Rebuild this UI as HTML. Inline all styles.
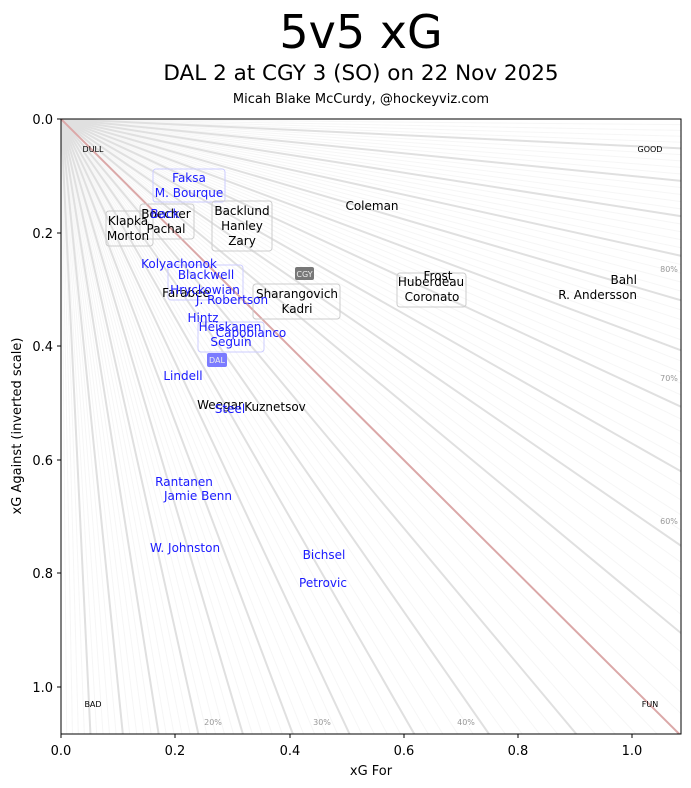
<!DOCTYPE html>
<html><head><meta charset="utf-8"><style>
html,body{margin:0;padding:0;background:#fff;overflow:hidden;width:691px;height:788px;}
svg{display:block;font-family:"DejaVu Sans","Liberation Sans",sans-serif;}
</style></head><body>
<svg id="s" width="691" height="788" viewBox="0 0 691 788" xmlns="http://www.w3.org/2000/svg">
<defs><clipPath id="c"><rect x="61" y="119" width="620" height="615"/></clipPath></defs>
<rect width="691" height="788" fill="#fff"/>
<text x="361" y="48" font-size="46" text-anchor="middle">5v5 xG</text>
<text x="361" y="80" font-size="21.5" text-anchor="middle">DAL 2 at CGY 3 (SO) on 22 Nov 2025</text>
<text x="361" y="103" font-size="13" text-anchor="middle">Micah Blake McCurdy, @hockeyviz.com</text>
<g id="faint" clip-path="url(#c)"></g>
<g clip-path="url(#c)" stroke="#e0e0e0" stroke-width="2" fill="none">
<line x1="61" y1="119" x2="1203" y2="23975"/>
<line x1="61" y1="119" x2="1203" y2="11479"/>
<line x1="61" y1="119" x2="1203" y2="7313"/>
<line x1="61" y1="119" x2="1203" y2="5231"/>
<line x1="61" y1="119" x2="1203" y2="3981"/>
<line x1="61" y1="119" x2="1203" y2="3148"/>
<line x1="61" y1="119" x2="1203" y2="2553"/>
<line x1="61" y1="119" x2="1203" y2="2107"/>
<line x1="61" y1="119" x2="1203" y2="1760"/>
<line x1="61" y1="119" x2="1203" y2="1482"/>
<line x1="61" y1="119" x2="1203" y2="1066"/>
<line x1="61" y1="119" x2="1203" y2="905"/>
<line x1="61" y1="119" x2="1203" y2="768"/>
<line x1="61" y1="119" x2="1203" y2="649"/>
<line x1="61" y1="119" x2="1203" y2="545"/>
<line x1="61" y1="119" x2="1203" y2="453"/>
<line x1="61" y1="119" x2="1203" y2="371"/>
<line x1="61" y1="119" x2="1203" y2="298"/>
<line x1="61" y1="119" x2="1203" y2="233"/>
<line x1="61" y1="119" x2="1203" y2="173"/>
<line x1="61" y1="119" x2="1203" y2="1255" stroke="#dba8a8"/>
</g>
<g font-size="8" fill="#999" text-anchor="middle">
<text x="213" y="725">20%</text><text x="322" y="725">30%</text><text x="466" y="725">40%</text>
<text x="669" y="524">60%</text><text x="669" y="381">70%</text><text x="669" y="272">80%</text>
</g>
<g font-size="8" fill="#000" text-anchor="middle">
<text x="93" y="152">DULL</text><text x="650" y="152">GOOD</text>
<text x="93" y="707">BAD</text><text x="650" y="707">FUN</text>
</g>
<g fill="none" stroke-width="1" >
<rect x="153" y="169" width="72" height="33" rx="3" stroke="#ccccff"/>
<rect x="106" y="211" width="47" height="35" rx="3" stroke="#ccc"/>
<rect x="140" y="204" width="54" height="35" rx="3" stroke="#ccc"/>
<rect x="212" y="201" width="60" height="50" rx="3" stroke="#ccc"/>
<rect x="168" y="265" width="75" height="35" rx="3" stroke="#ccccff"/>
<rect x="253" y="284" width="87" height="35" rx="3" stroke="#ccc"/>
<rect x="397" y="273" width="69" height="34" rx="3" stroke="#ccc"/>
<rect x="198" y="322" width="66" height="30" rx="3" stroke="#ccccff"/>
</g>
<rect x="295" y="267" width="19" height="13" rx="2" fill="#777"/>
<text x="304.5" y="277" font-size="8" fill="#eee" text-anchor="middle">CGY</text>
<rect x="207" y="353" width="20" height="14" rx="2" fill="#7b7bff"/>
<text x="217" y="363" font-size="8" fill="#eee" text-anchor="middle">DAL</text>
<g font-size="12" text-anchor="middle" fill="#000">
<text x="128" y="225">Klapka</text><text x="128" y="240">Morton</text>
<text x="166" y="218">Boecher</text><text x="166" y="233">Pachal</text>
<text x="242" y="215">Backlund</text><text x="242" y="230">Hanley</text><text x="242" y="245">Zary</text>
<text x="372" y="210">Coleman</text>
<text x="186" y="297">Farabee</text>
<text x="297" y="298">Sharangovich</text><text x="297" y="313">Kadri</text>
<text x="438" y="280">Frost</text><text x="431" y="286">Huberdeau</text><text x="432" y="301">Coronato</text>
<text x="637" y="284" text-anchor="end">Bahl</text><text x="637" y="299" text-anchor="end">R. Andersson</text>
<text x="220" y="409">Weegar</text><text x="275" y="411">Kuznetsov</text>
</g>
<g font-size="12" text-anchor="middle" fill="#1a1aff">
<text x="189" y="182">Faksa</text><text x="189" y="197">M. Bourque</text>
<text x="165" y="218">Back</text>
<text x="179" y="268">Kolyachonok</text>
<text x="206" y="279">Blackwell</text><text x="205" y="294">Hryckowian</text>
<text x="232" y="304">J. Robertson</text>
<text x="203" y="322">Hintz</text><text x="230" y="331">Heiskanen</text><text x="251" y="337">Capobianco</text><text x="231" y="346">Seguin</text>
<text x="183" y="380">Lindell</text>
<text x="230" y="413">Steel</text>
<text x="184" y="486">Rantanen</text><text x="198" y="500">Jamie Benn</text>
<text x="185" y="552">W. Johnston</text>
<text x="324" y="559">Bichsel</text><text x="323" y="587">Petrovic</text>
</g>
<rect x="61" y="119" width="620" height="615" fill="none" stroke="#000" stroke-width="1"/>
<g stroke="#000" stroke-width="1">
<line x1="61" y1="734" x2="61" y2="738"/><line x1="175" y1="734" x2="175" y2="738"/><line x1="290" y1="734" x2="290" y2="738"/><line x1="404" y1="734" x2="404" y2="738"/><line x1="518" y1="734" x2="518" y2="738"/><line x1="632" y1="734" x2="632" y2="738"/>
<line x1="57" y1="119" x2="61" y2="119"/><line x1="57" y1="233" x2="61" y2="233"/><line x1="57" y1="346" x2="61" y2="346"/><line x1="57" y1="460" x2="61" y2="460"/><line x1="57" y1="573" x2="61" y2="573"/><line x1="57" y1="687" x2="61" y2="687"/>
</g>
<g font-size="13" text-anchor="middle">
<text x="61" y="755">0.0</text><text x="175" y="755">0.2</text><text x="290" y="755">0.4</text><text x="404" y="755">0.6</text><text x="518" y="755">0.8</text><text x="632" y="755">1.0</text>
</g>
<g font-size="13" text-anchor="end">
<text x="53" y="124">0.0</text><text x="53" y="238">0.2</text><text x="53" y="351">0.4</text><text x="53" y="465">0.6</text><text x="53" y="578">0.8</text><text x="53" y="692">1.0</text>
</g>
<text x="371" y="775" font-size="13" text-anchor="middle">xG For</text>
<text transform="translate(21,426) rotate(-90)" font-size="13" text-anchor="middle">xG Against (inverted scale)</text>
</svg>
<script>
var g=document.getElementById('faint'),s='';
for(var j=1;j<110;j++){var p=j/110,k=(1-p)/p;s+='<line x1="61" y1="119" x2="1203" y2="'+(119+1136*k)+'" stroke="#f6f6f6" stroke-width="1"/>';}
g.innerHTML=s;
</script>
</body></html>
